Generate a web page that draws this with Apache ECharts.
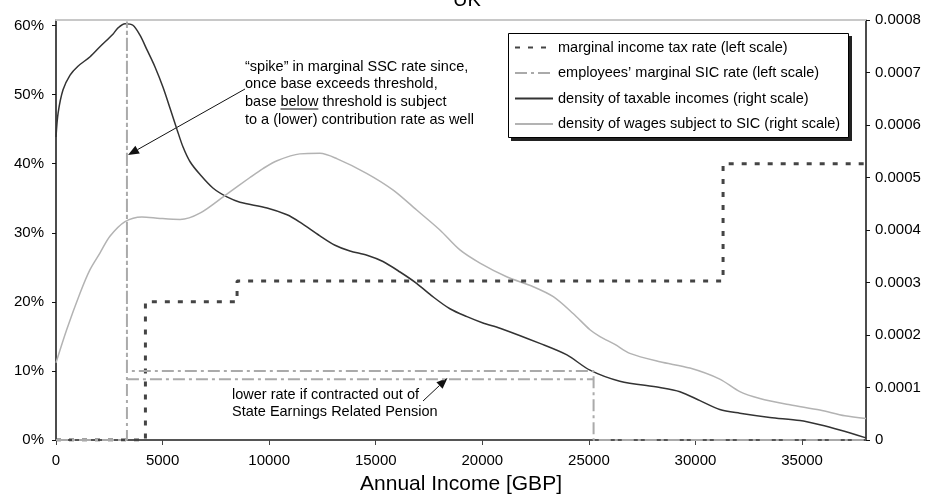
<!DOCTYPE html>
<html><head><meta charset="utf-8">
<script src="https://cdn.jsdelivr.net/npm/echarts@6/dist/echarts.min.js"></script>
<style>html,body{margin:0;padding:0;background:#fff}#c{width:933px;height:494px}</style>
</head><body><div id="c"></div>
<script>
const FONT = "'Liberation Sans', Arial, Helvetica, sans-serif";

// ---- data ----
const xTicks = [0, 5000, 10000, 15000, 20000, 25000, 30000, 35000];
const leftTicks = [0, 0.1, 0.2, 0.3, 0.4, 0.5, 0.6];

const taxIncome = [0, 4195, 4195, 8495, 8495, 31295, 31295, 38000];
const taxRate   = [0, 0, 0.20, 0.20, 0.23, 0.23, 0.40, 0.40];

const sicIncome = [0, 3328, 3328, 3328, 25220, 25220, 38000];
const sicRate   = [0, 0, 0.606, 0.10, 0.10, 0, 0];

const sicCoIncome = [3328, 25220];
const sicCoRate   = [0.088, 0.088];

const taxableIncome = [0,100,330,660,1030,1600,2060,2670,2910,3240,3610,3940,4270,4640,5020,5350,5680,5960,6290,6750,7360,8020,8630,9900,10840,11440,12380,13090,13790,14590,15340,16140,16930,17680,18480,19280,20030,20830,22700,23970,25050,26450,28330,29270,30210,31140,32080,33490,34900,35840,36770,38000];
const taxableDensity = [0.000577,0.000623,0.000667,0.000695,0.000712,0.00073,0.000749,0.000773,0.000785,0.000793,0.00079,0.000771,0.000743,0.000711,0.000672,0.000632,0.000591,0.000558,0.00053,0.000506,0.00048,0.000463,0.000453,0.000442,0.000429,0.000415,0.000389,0.000371,0.00036,0.000352,0.00034,0.00032,0.000298,0.000273,0.00025,0.000235,0.000223,0.000213,0.000184,0.000162,0.000133,0.000112,0.0001,0.000092,0.000075,0.000058,0.000051,0.000043,0.000037,0.000029,0.000019,0.000004];

const wageIncome = [0,500,1130,1590,2060,2530,3240,4030,4880,5820,6750,8000,9100,9710,10370,11440,12380,13170,14570,15820,16920,18010,18950,19890,21140,22390,23330,24260,25050,25520,26220,26920,28330,29740,31140,32080,33020,34430,35840,37010,38000];
const wageDensity = [0.000147,0.00021,0.00028,0.000324,0.000356,0.000388,0.000416,0.000425,0.000422,0.00042,0.000432,0.000468,0.0005,0.000517,0.000532,0.000545,0.000546,0.000536,0.000508,0.000476,0.000438,0.0004,0.000362,0.000337,0.000311,0.000292,0.000273,0.000241,0.00021,0.000197,0.000182,0.000165,0.000149,0.000137,0.000116,0.000092,0.000079,0.000067,0.000057,0.000046,0.000041];

const names = [
  'marginal income tax rate (left scale)',
  'employees\u2019 marginal SIC rate (left scale)',
  'density of taxable incomes (right scale)',
  'density of wages subject to SIC (right scale)'
];

const zip = (a, b) => a.map((v, i) => [v, b[i]]);

// ---- helpers for annotations ----
const ANN_SIZE = 14.5;
const cv = document.createElement('canvas').getContext('2d');
cv.font = ANN_SIZE + "px 'Liberation Sans'";
const tw = s => cv.measureText(s).width;

function arrow(x1, y1, x2, y2) {
  const ang = Math.atan2(y2 - y1, x2 - x1);
  const L = 11, W = 4.5;
  const bx = x2 - L * Math.cos(ang), by = y2 - L * Math.sin(ang);
  const px = -Math.sin(ang) * W, py = Math.cos(ang) * W;
  return [
    { type: 'line', shape: { x1, y1, x2: bx, y2: by }, style: { stroke: '#111', lineWidth: 1 } },
    { type: 'polygon', shape: { points: [[x2, y2], [bx + px, by + py], [bx - px, by - py]] }, style: { fill: '#111' } }
  ];
}
function txt(x, y, s) {
  return { type: 'text', x, y, style: { text: s, font: ANN_SIZE + "px 'Liberation Sans'", fill: '#000', textVerticalAlign: 'middle' } };
}

const annX = 245;
const belowX = annX + tw('base ');
const belowW = tw('below');

const graphics = [
  // legend frame with hard drop shadow
  { type: 'rect', z: 0, shape: { x: 511, y: 36, width: 341, height: 105 }, style: { fill: '#222' } },
  { type: 'rect', z: 1, shape: { x: 508.5, y: 33.5, width: 340, height: 104 }, style: { fill: '#fff', stroke: '#000', lineWidth: 1 } },
  txt(annX, 66.5, '\u201Cspike\u201D in marginal SSC rate since,'),
  txt(annX, 84.2, 'once base exceeds threshold,'),
  txt(annX, 102, 'base below threshold is subject'),
  txt(annX, 119.7, 'to a (lower) contribution rate as well'),
  { type: 'line', shape: { x1: belowX, y1: 109, x2: belowX + belowW, y2: 109 }, style: { stroke: '#000', lineWidth: 1 } },
  ...arrow(245, 89, 128, 155),
  txt(232, 395, 'lower rate if contracted out of'),
  txt(232, 412, 'State Earnings Related Pension'),
  ...arrow(423, 401, 447.5, 378)
];

const chart = echarts.init(document.getElementById('c'), null, { renderer: 'canvas' });
const axisText = { color: '#000', fontSize: 15, fontFamily: FONT };
const noSym = { color: 'rgba(0,0,0,0)', borderColor: 'rgba(0,0,0,0)' };

chart.setOption({
  animation: false,
  textStyle: { fontFamily: FONT },
  title: { text: 'UK', left: 448, top: -15, textStyle: { fontSize: 20, fontWeight: 'normal', color: '#000', fontFamily: FONT } },
  grid: { left: 56, right: 67, top: 20, bottom: 54, containLabel: false, outerBoundsMode: 'none' },
  legend: {
    data: names,
    orient: 'vertical',
    left: 508, top: 33, z: 10,
    padding: [7, 8, 8, 6],
    itemWidth: 38, itemHeight: 14, itemGap: 10.5,
    selectedMode: false,
    itemStyle: { opacity: 0 },
    textStyle: { color: '#000', fontSize: 14.5, fontFamily: FONT }
  },
  xAxis: [{
    type: 'value', min: 0, max: 38000, position: 'bottom',
    name: 'Annual Income [GBP]', nameLocation: 'middle', nameGap: 34,
    nameTextStyle: { fontSize: 21, color: '#000', fontFamily: FONT },
    axisLine: { show: true, onZero: false, lineStyle: { color: '#555', width: 2 } },
    axisTick: { show: true, customValues: xTicks, length: 5, lineStyle: { color: '#444' } },
    axisLabel: { customValues: xTicks, margin: 13, formatter: v => String(v), ...axisText },
    splitLine: { show: false }
  }, {
    type: 'value', min: 0, max: 38000, position: 'top',
    axisLine: { show: true, onZero: false, lineStyle: { color: '#c8c8c8', width: 2 } },
    axisTick: { show: false }, axisLabel: { show: false }, splitLine: { show: false }
  }],
  yAxis: [{
    type: 'value', min: 0, max: 0.608, position: 'left',
    axisLine: { show: true, onZero: false, lineStyle: { color: '#111', width: 1.5 } },
    axisTick: { show: true, customValues: leftTicks, length: 4, lineStyle: { color: '#111' } },
    axisLabel: { customValues: leftTicks, margin: 12, formatter: v => Math.round(v * 100) + '%', ...axisText },
    splitLine: { show: false }
  }, {
    type: 'value', min: 0, max: 0.0008, interval: 0.0001, position: 'right',
    axisLine: { show: true, onZero: false, lineStyle: { color: '#111', width: 1.5 } },
    axisTick: { show: true, length: 4, lineStyle: { color: '#111' } },
    axisLabel: { margin: 9, formatter: v => v === 0 ? '0' : v.toFixed(4), ...axisText },
    splitLine: { show: false }
  }],
  series: [
    {
      name: names[0], type: 'line', yAxisIndex: 0, data: zip(taxIncome, taxRate),
      symbol: 'none', showSymbol: false, z: 3,
      lineStyle: { color: '#444', width: 3, type: [5, 8] }, itemStyle: noSym,
      emphasis: { disabled: true }
    },
    {
      name: names[1], type: 'line', yAxisIndex: 0, data: zip(sicIncome, sicRate),
      symbol: 'none', showSymbol: false, z: 4,
      lineStyle: { color: '#aaa', width: 2, type: [12, 4, 3, 4] }, itemStyle: noSym,
      emphasis: { disabled: true }
    },
    {
      name: 'contracted out', type: 'line', yAxisIndex: 0, data: zip(sicCoIncome, sicCoRate),
      symbol: 'none', showSymbol: false, z: 4,
      lineStyle: { color: '#aaa', width: 2, type: [12, 4, 3, 4] }, itemStyle: noSym,
      emphasis: { disabled: true }
    },
    {
      name: names[2], type: 'line', yAxisIndex: 1, data: zip(taxableIncome, taxableDensity),
      symbol: 'none', showSymbol: false, smooth: 0.3, z: 2,
      lineStyle: { color: '#333', width: 1.5 }, itemStyle: noSym,
      emphasis: { disabled: true }
    },
    {
      name: names[3], type: 'line', yAxisIndex: 1, data: zip(wageIncome, wageDensity),
      symbol: 'none', showSymbol: false, smooth: 0.3, z: 2,
      lineStyle: { color: '#b3b3b3', width: 1.5 }, itemStyle: noSym,
      emphasis: { disabled: true }
    }
  ],
  graphic: graphics
});
</script>
</body></html>
